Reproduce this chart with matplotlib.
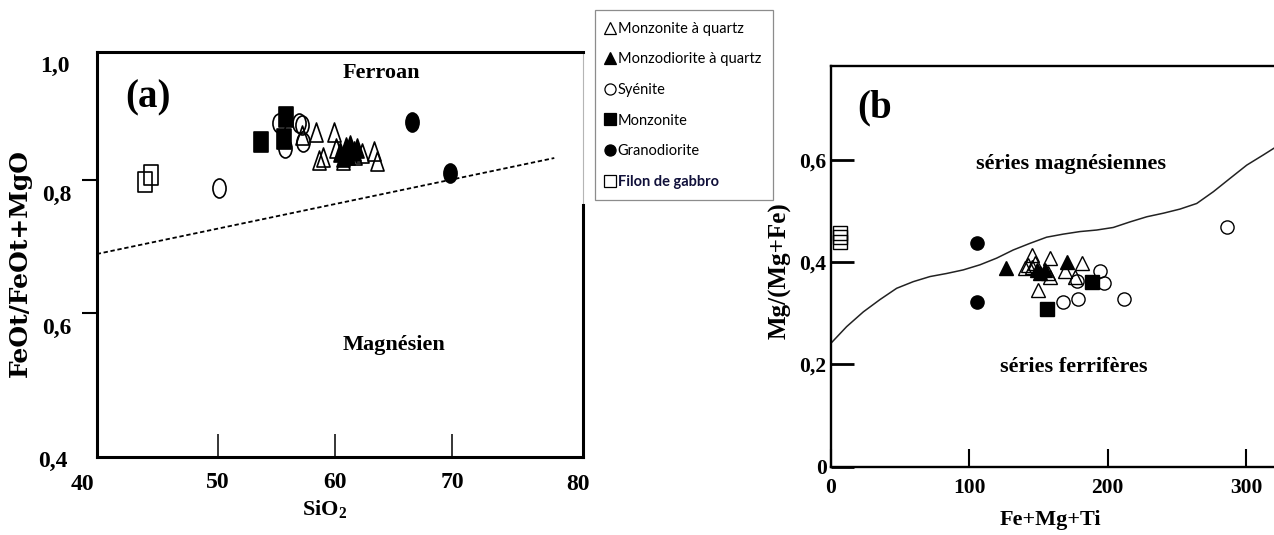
import matplotlib
matplotlib.use('Agg')
import matplotlib.pyplot as plt
from matplotlib.lines import Line2D
from matplotlib.markers import MarkerStyle
from matplotlib.transforms import Affine2D, ScaledTranslation

# ---------- (a) SiO2 vs FeOt/(FeOt+MgO)
a_mq_x = [57.2, 58.4, 59.9, 58.6, 59.0, 60.7, 62.3, 63.3, 63.6, 60.1, 61.7]
a_mq_y = [0.868, 0.872, 0.872, 0.830, 0.835, 0.830, 0.840, 0.843, 0.828, 0.848, 0.838]
a_mdq_x = [60.4, 60.9, 61.3, 61.1, 61.6, 60.7, 61.9]
a_mdq_y = [0.842, 0.850, 0.853, 0.838, 0.843, 0.835, 0.848]
a_sy_x = [50.1, 55.2, 55.7, 56.9, 57.2, 57.3]
a_sy_y = [0.788, 0.885, 0.848, 0.885, 0.883, 0.857]
a_mz_x = [53.7, 55.8, 55.6]
a_mz_y = [0.857, 0.895, 0.862]
a_gd_x = [66.6, 69.8]
a_gd_y = [0.887, 0.810]
a_gb_x = [43.8, 44.25]
a_gb_y = [0.797, 0.808]
limite_a_x = [39.63, 78.74]
limite_a_y = [0.689, 0.833]

# ---------- (b) Fe+Mg+Ti vs Mg/(Mg+Fe)
b_mq_x = [145.1, 158.3, 181.2, 149.9, 169.2, 176.4, 140.3, 142.7, 145.1, 147.5, 157.1, 158.3]
b_mq_y = [0.414, 0.408, 0.399, 0.346, 0.382, 0.372, 0.388, 0.395, 0.391, 0.398, 0.378, 0.372]
b_mdq_x = [126.6, 170.8, 151.1, 154.7, 148.7]
b_mdq_y = [0.388, 0.401, 0.378, 0.385, 0.385]
b_sy_x = [194.4, 197.3, 177.6, 167.5, 178.8, 211.8, 286.4]
b_sy_y = [0.382, 0.359, 0.364, 0.323, 0.329, 0.329, 0.468]
b_mz_x = [188.4, 156.4]
b_mz_y = [0.362, 0.308]
b_gd_x = [105.9, 105.4]
b_gd_y = [0.438, 0.323]
b_gb_x = [6.8, 6.8, 6.8]
b_gb_y = [0.457, 0.449, 0.440]
courbe_x = [0, 11.5, 23.6, 35.6, 47.6, 59.6, 71.7, 83.7, 95.7, 107.8, 119.8, 131.8, 143.9,
            155.9, 167.9, 180, 192, 204, 216.2, 228.3, 240.3, 252.2, 264.3, 276.3, 288.3,
            300.4, 312.4, 320, 330]
courbe_y = [0.241, 0.274, 0.303, 0.327, 0.349, 0.362, 0.372, 0.378, 0.385, 0.395, 0.408,
            0.424, 0.437, 0.449, 0.455, 0.460, 0.463, 0.468, 0.479, 0.489, 0.496, 0.504,
            0.515, 0.538, 0.564, 0.590, 0.610, 0.623, 0.640]

groupes = ['Monzonite à quartz', 'Monzodiorite à quartz', 'Syénite',
           'Monzonite', 'Granodiorite', 'Filon de gabbro']
symboles = ['^', '^', 'o', 's', 'o', 's']
pleins = [False, True, False, True, True, False]

plt.rcParams['font.family'] = 'Liberation Serif'
plt.rcParams['font.weight'] = 'bold'
plt.rcParams['axes.labelweight'] = 'bold'
plt.rcParams['mathtext.default'] = 'regular'


def marqueur_etire(m):
    # les symboles du diagramme (a) sont plus hauts que larges
    st = MarkerStyle(m)
    p = st.get_path().transformed(st.get_transform())
    return p.transformed(Affine2D().scale(1, 1.45))


W, H = 1274, 535
fig = plt.figure(figsize=(W / 100, H / 100), dpi=100)

# ===================== (a)
ax = fig.add_axes([96.7 / W, 1 - 456.7 / H, 486 / W, 405 / H])
ax.set_xlim(39.63, 81.17)
ax.set_ylim(0.385, 0.9925)
ax.plot(limite_a_x, limite_a_y, color='black', lw=1.3, ls=(0, (2.4, 1.5)))

series_a = [(a_mq_x, a_mq_y), (a_sy_x, a_sy_y), (a_mz_x, a_mz_y),
            (a_mdq_x, a_mdq_y), (a_gd_x, a_gd_y), (a_gb_x, a_gb_y)]
ordre = [0, 2, 3, 1, 4, 5]
for (xs, ys), i in zip(series_a, ordre):
    ax.plot(xs, ys, ls='none', marker=marqueur_etire(symboles[i]), ms=13.7,
            mfc='black' if pleins[i] else 'none', mec='black', mew=1.2)

ax.text(64.0, 0.960, 'Ferroan', ha='center', va='center', fontsize=16)
ax.text(65.04, 0.5525, 'Magnésien', ha='center', va='center', fontsize=16)
ax.text(44.04, 0.9225, '(a)', ha='center', va='center', fontsize=28)

ax.set_xticks([50, 60, 70])
ax.set_xticklabels(['50', '60', '70'])
ax.set_yticks([0.6, 0.8])
ax.set_yticklabels(['0,6', '0,8'])
ax.tick_params(axis='x', direction='in', length=16.5, width=1.1, pad=11, labelsize=17)
ax.tick_params(axis='y', direction='out', length=10.8, width=1.5, pad=7, labelsize=17)
decal = ScaledTranslation(0, -0.13, fig.dpi_scale_trans)
for lbl in ax.get_yticklabels():
    lbl.set_transform(lbl.get_transform() + decal)
# graduations des coins, sans trait
ax.text(-0.055, 0.9635, '1,0', transform=ax.transAxes, ha='right', va='center', fontsize=17)
ax.text(-0.059, -0.0106, '0,4', transform=ax.transAxes, ha='right', va='center', fontsize=17)
ax.text(-0.030, -0.0686, '40', transform=ax.transAxes, ha='center', va='center', fontsize=17)
ax.text(0.990, -0.0686, '80', transform=ax.transAxes, ha='center', va='center', fontsize=17)

for s in ax.spines.values():
    s.set_linewidth(2.2)
ax.spines['right'].set_bounds(0.385, 0.7625)
ax.axvline(81.17, ymin=0.621, ymax=1.0, color='#b5b5b5', lw=0.8, clip_on=False)

ax.set_xlabel('SiO$_2$', fontsize=16, fontweight='bold')
ax.xaxis.set_label_coords(0.468, -0.103)
ax.set_ylabel('FeOt/FeOt+MgO', family='DejaVu Serif', fontsize=18, fontweight='bold')
ax.yaxis.set_label_coords(-0.133, 0.478)

# ===================== légende
poignees = [Line2D([], [], ls='none', marker=m, ms=8, mfc='black' if p else 'white',
                   mec='black', mew=0.9) for m, p in zip(symboles, pleins)]
leg = fig.legend(poignees, groupes, loc='upper left',
                 bbox_to_anchor=(595 / W, 1 - 10 / H), borderaxespad=0,
                 fancybox=False, edgecolor='#8c8c8c', framealpha=1,
                 prop={'family': 'Lato', 'size': 10.5, 'weight': 'normal'},
                 handlelength=0.45, handletextpad=0.3, labelspacing=1.14, borderpad=0.8)
leg.get_frame().set_linewidth(0.9)
leg.get_texts()[-1].set_fontweight('bold')
leg.get_texts()[-1].set_color('#10103a')

# ===================== (b)
bx = fig.add_axes([830.7 / W, 1 - 466.7 / H, 470.9 / W, 401 / H])
bx.set_xlim(0, 340)
bx.set_ylim(0, 0.7845)
bx.plot(courbe_x, courbe_y, color='#222222', lw=1.1)

series_b = [(b_mq_x, b_mq_y), (b_mdq_x, b_mdq_y), (b_sy_x, b_sy_y),
            (b_mz_x, b_mz_y), (b_gd_x, b_gd_y), (b_gb_x, b_gb_y)]
for i, (xs, ys) in enumerate(series_b):
    bx.plot(xs, ys, ls='none', marker=symboles[i], ms=9.5,
            mfc='black' if pleins[i] else 'none', mec='black', mew=1.0)

bx.text(32, 0.701, '(b', ha='center', va='center', fontsize=28)
bx.text(173.3, 0.5916, 'séries magnésiennes', ha='center', va='center', fontsize=16)
bx.text(175.2, 0.1955, 'séries ferrifères', ha='center', va='center', fontsize=16)

bx.set_xticks([0, 100, 200, 300])
bx.set_xticklabels(['0', '100', '200', '300'])
bx.set_yticks([0, 0.2, 0.4, 0.6])
bx.set_yticklabels(['0', '0,2', '0,4', '0,6'])
bx.tick_params(axis='x', direction='in', length=13, width=1.5, pad=8, labelsize=15.5)
bx.tick_params(axis='y', direction='in', length=16.5, width=2, pad=3, labelsize=15.5)
for s in bx.spines.values():
    s.set_linewidth(1.7)

bx.set_xlabel('Fe+Mg+Ti', fontsize=16, fontweight='bold')
bx.xaxis.set_label_coords(0.467, -0.108)
bx.set_ylabel('Mg/(Mg+Fe)', fontsize=18, fontweight='bold')
bx.yaxis.set_label_coords(-0.082, 0.488)

fig.savefig('out.png', dpi=100)
